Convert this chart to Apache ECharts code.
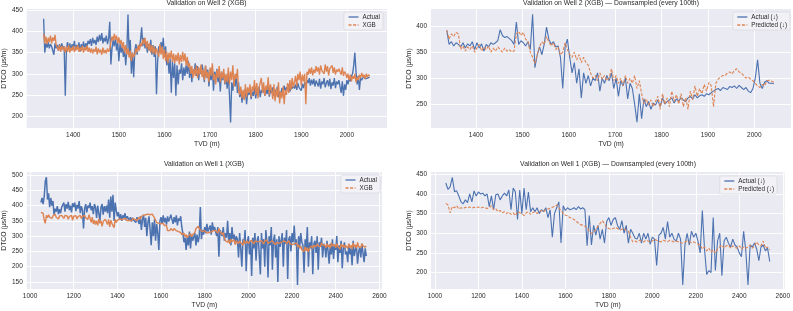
<!DOCTYPE html>
<html><head><meta charset="utf-8">
<script src="https://cdn.jsdelivr.net/npm/echarts@6/dist/echarts.min.js"></script>
<style>html,body{margin:0;padding:0;background:#fff}#c{width:793px;height:311px}</style>
</head><body><div id="c"></div>
<script>
// ---------- Well 2, full resolution (depth start 1335 m, sample step 2.5 m) ----------
const w2FullStart = 1335, w2FullStep = 2.5;
const w2FullActual = [
 430,350,372,362,375,360,370,365,368,345,372,360,368,355,370,358,372,360,365,248,
 360,375,358,372,355,370,362,378,356,368,360,374,352,370,362,376,358,372,364,378,
 370,382,366,385,372,380,368,388,375,392,378,396,372,385,376,390,370,383,423,322,
 360,380,365,385,355,375,330,370,350,365,340,360,320,355,440,345,380,300,350,292,
 355,370,345,365,360,380,410,365,385,360,375,350,370,355,380,345,368,340,365,252,
 330,365,350,375,360,385,340,365,320,345,300,335,255,330,290,325,248,320,275,310,
 300,325,285,315,295,320,300,330,290,315,280,310,300,325,295,318,285,312,300,322,
 305,280,318,290,310,270,300,285,315,260,305,290,312,280,298,258,305,285,300,275,
 295,265,300,250,185,280,260,290,270,300,255,280,245,262,232,258,240,265,228,255,
 250,262,240,258,248,268,242,260,252,270,245,262,255,268,248,265,252,270,246,262,
 255,268,248,262,252,270,245,258,250,266,255,272,260,268,262,275,258,270,265,272,
 265,275,262,278,268,272,260,276,266,280,270,285,278,290,272,286,275,288,270,284,
 280,270,288,265,282,275,290,268,278,285,270,288,264,280,272,290,266,282,275,285,
 270,255,282,248,275,262,285,275,290,282,295,300,320,350,305,275,295,262,290,285,
 290,295,288,292,290,294,292
];
const w2FullXgb = [
 395,372,388,370,385,375,390,372,386,378,392,368,362,355,368,352,366,356,364,350,
 365,352,368,350,362,355,366,351,364,356,368,352,362,354,366,350,363,355,367,352,
 362,350,360,348,358,352,364,346,360,350,357,345,362,349,356,348,360,352,358,375,
 388,378,394,380,390,372,386,370,380,360,375,350,368,345,360,338,355,330,350,340,
 345,360,350,368,355,372,365,382,370,385,362,378,355,372,350,368,348,365,345,360,
 360,340,370,345,365,335,358,330,352,325,350,335,355,328,348,325,345,330,350,322,
 345,328,352,330,348,320,340,315,325,300,318,290,312,295,320,290,315,298,322,292,
 310,285,320,290,305,280,315,295,325,285,300,275,310,290,318,280,305,288,312,278,
 300,280,315,275,305,285,320,270,300,288,312,260,250,270,242,262,238,275,245,268,
 255,275,245,270,260,285,250,278,242,268,265,290,255,280,248,272,262,292,250,275,
 260,240,275,235,265,245,280,230,258,242,270,228,262,250,278,255,285,262,290,268,
 280,295,270,300,285,305,272,298,282,300,228,305,298,312,300,315,296,310,302,318,
 305,315,298,320,308,312,300,322,305,318,296,312,308,320,302,315,298,310,305,312,
 308,298,315,295,305,300,290,300,285,298,282,295,288,300,280,292,285,298,290,302,
 292,298,288,300,292,298,295
];

// ---------- Well 2, downsampled (start 1337 m, step 5 m) ----------
const w2DsStart = 1337, w2DsStep = 5;
const w2DsActual = [
 392,365,370,362,368,365,360,368,358,366,
 362,370,355,368,358,366,352,365,360,368,
 365,368,372,393,382,378,380,376,372,365,
 408,365,372,368,362,370,355,423,320,345,
 360,345,365,398,375,365,370,360,362,340,
 280,360,375,340,310,330,290,318,262,310,
 290,305,285,300,295,310,275,300,290,305,
 295,310,280,300,265,295,285,300,260,290,
 280,250,215,270,222,260,245,255,240,252,
 248,258,245,262,250,255,258,262,252,260,
 256,262,258,255,262,265,260,268,262,266,
 268,265,270,268,272,275,278,280,276,282,
 280,278,284,282,285,280,286,282,278,282,
 275,272,280,300,335,290,280,292,295,290,
 290,289
];
const w2DsPred = [
 392,375,385,380,388,385,355,362,352,360,
 355,362,350,358,365,352,360,355,362,350,
 358,352,360,355,350,358,352,355,350,352,
 385,390,382,388,375,370,350,340,328,345,
 360,370,365,380,370,362,368,355,360,345,
 350,368,355,345,340,350,335,345,330,340,
 330,325,310,300,305,295,310,298,305,295,
 300,318,295,305,290,300,285,305,290,300,
 290,305,280,295,270,250,260,248,258,245,
 255,265,240,270,250,262,245,275,255,268,
 250,270,245,262,240,275,258,285,265,280,
 270,288,275,292,285,245,290,298,302,305,
 305,310,312,308,315,318,312,310,305,300,
 302,298,295,290,285,282,288,285,295,296,
 294,292
];

// ---------- Well 1, full resolution (start 1050 m, step 5 m) ----------
const w1FullStart = 1050, w1FullStep = 5;
const w1FullActual = [
 410,425,405,430,480,493,420,440,395,425,400,415,370,390,380,398,372,388,375,395,
 395,410,380,405,390,412,385,400,378,408,395,410,382,402,390,415,375,398,385,325,
 390,405,378,400,392,410,385,398,372,405,395,360,400,375,348,395,405,370,398,380,
 400,375,420,360,430,380,435,350,410,385,365,378,355,372,350,368,360,375,352,365,
 358,350,362,348,360,352,356,345,362,350,340,365,320,355,370,330,360,300,345,365,
 320,270,345,300,355,285,340,310,255,350,362,340,368,345,360,338,365,348,358,370,
 355,340,362,345,368,335,358,350,365,330,310,280,295,255,300,270,315,260,305,285,
 290,310,270,305,280,300,395,290,320,305,330,310,340,315,325,335,305,345,320,330,
 325,300,330,233,320,310,300,330,285,310,295,350,280,310,270,330,290,305,275,300,
 290,230,310,260,200,290,275,320,185,280,300,240,285,170,295,260,310,220,285,300,
 295,175,310,260,290,200,320,280,165,300,270,330,190,285,305,230,290,150,300,265,
 285,310,200,295,275,320,160,290,300,250,310,280,335,270,290,140,300,265,310,280,
 270,180,290,255,330,200,280,260,300,175,275,285,245,300,190,280,265,295,230,275,
 265,230,285,250,210,275,240,290,225,268,255,300,215,270,245,285,195,260,280,240,
 250,215,275,240,260,205,285,235,255,270,210,248,265,230,275,245,215,260,235
];
const w1FullXgb = [
 378,376,375,352,342,368,360,370,362,368,358,366,360,372,362,368,356,366,360,368,
 365,358,368,362,366,355,364,360,368,352,365,360,367,356,364,362,368,358,365,360,
 368,360,366,355,370,358,345,362,340,352,338,350,335,356,342,350,332,348,345,355,
 350,338,355,330,352,342,348,328,355,345,352,348,356,350,354,348,356,352,358,350,
 355,352,356,350,358,352,355,360,352,358,362,355,365,360,368,362,370,365,372,368,
 370,375,372,368,360,352,345,348,342,345,340,338,342,335,330,335,318,322,318,325,
 322,318,325,320,318,322,315,320,312,305,300,310,298,305,295,302,300,308,298,305,
 305,312,325,330,332,326,320,318,315,312,318,314,310,316,312,318,314,310,318,315,
 318,322,310,325,315,320,305,312,295,285,290,280,288,275,290,282,278,288,272,285,
 280,275,285,278,282,270,288,276,280,284,275,282,278,286,280,274,284,278,282,276,
 282,276,285,280,274,284,278,288,276,282,280,275,285,278,282,272,280,286,276,282,
 280,276,284,278,282,275,280,285,276,280,272,278,275,270,278,265,272,260,268,255,
 258,250,265,252,262,248,260,255,268,260,270,272,265,275,268,272,266,278,270,268,
 270,262,275,265,272,260,278,268,264,272,262,276,266,270,258,274,265,272,262,270,
 268,260,275,262,270,258,278,265,272,260,280,266,270,262,276,268,272,264,268
];

// ---------- Well 1, downsampled (start 1050 m, step 10 m) ----------
const w1DsStart = 1050, w1DsStep = 10;
const w1DsActual = [
 428,412,418,442,406,408,395,380,375,385,
 378,400,380,408,395,405,400,402,395,400,
 368,395,360,398,400,385,395,402,395,410,
 360,415,405,335,410,350,415,360,405,355,
 365,355,365,350,360,355,365,340,360,290,
 350,365,380,275,370,358,365,360,362,365,
 360,368,362,365,360,268,345,270,320,295,
 320,285,310,275,330,340,320,335,340,320,
 310,332,300,320,275,310,300,288,285,300,
 275,300,285,300,272,290,285,218,295,300,
 315,285,330,290,300,285,280,300,285,168,
 270,300,270,305,290,300,280,250,358,260,
 195,205,200,340,205,280,300,192,280,290,
 275,265,285,270,265,250,240,305,255,168,
 270,265,275,260,230,265,270,255,262,228
];
const w1DsPred = [
 376,372,352,368,365,370,362,365,363,366,
 365,367,364,366,365,367,364,366,365,363,
 365,370,360,362,355,358,352,355,350,354,
 348,352,345,355,352,350,345,352,355,348,
 352,355,350,356,358,355,360,362,364,366,
 368,372,365,358,350,346,345,340,338,335,
 330,326,322,320,318,315,305,300,302,310,
 318,325,332,325,315,312,310,312,315,312,
 308,310,312,308,305,290,278,280,278,282,
 280,278,282,280,278,280,285,282,280,278,
 282,280,278,282,280,278,280,278,276,275,
 278,280,278,276,278,275,272,270,260,265,
 255,262,252,258,250,260,265,270,262,268,
 270,262,268,264,262,268,260,265,262,265,
 270,262,268,278,270,268,280,262,265,258
];

// ---------- tick labels ----------
const xTicksW2 = [1400,1500,1600,1700,1800,1900,2000];
const xTicksW1 = [1000,1200,1400,1600,1800,2000,2200,2400,2600];
const yTicksTL = [200,250,300,350,400,450];
const yTicksTR = [250,300,350,400];
const yTicksBL = [150,200,250,300,350,400,450,500];
const yTicksBR = [200,250,300,350,400,450];

const titles = ['Validation on Well 2 (XGB)',
  'Validation on Well 2 (XGB) \u2014 Downsampled (every 100th)',
  'Validation on Well 1 (XGB)',
  'Validation on Well 1 (XGB) \u2014 Downsampled (every 100th)'];

function pairs(start, step, vals){ return vals.map((v,i)=>[start+i*step, v]); }

const FONT = 'Liberation Sans, Arial, sans-serif';
const TXT = '#2a2a2a';
const BLUE = '#4C72B0', ORANGE = '#DD8452';
const DASH = [3, 1.6];

const grids = [
  {left:26, top:9, width:361, height:119},
  {left:431, top:9, width:360, height:119},
  {left:26, top:172, width:356, height:117},
  {left:431, top:172, width:354, height:117}
];
const xr = [[1298,2088],[1303,2079],[985,2612],[982,2609]];
const yr = [[172,453],[204,433],[127,510],[158,456]];
const xt = [xTicksW2, xTicksW2, xTicksW1, xTicksW1];
const yt = [yTicksTL, yTicksTR, yTicksBL, yTicksBR];

const xAxis = grids.map((g,i)=>({
  type:'value', gridIndex:i, min:xr[i][0], max:xr[i][1],
  name:'TVD (m)', nameLocation:'middle', nameGap: i<2 ? 12.5 : 13,
  nameTextStyle:{fontSize:6.8, color:TXT, fontFamily:FONT},
  axisLine:{show:false},
  axisTick:{show:false, customValues:xt[i]},
  axisLabel:{customValues:xt[i], fontSize:6.5, color:TXT, fontFamily:FONT, margin:4, formatter:v=>String(v)},
  splitLine:{show:true, customValues:xt[i], lineStyle:{color:'#ffffff', width:0.9}}
}));
const yAxis = grids.map((g,i)=>({
  type:'value', gridIndex:i, min:yr[i][0], max:yr[i][1],
  name:'DTCO (\u03bcs/m)', nameLocation:'middle', nameGap:18,
  nameTextStyle:{fontSize:6.8, color:TXT, fontFamily:FONT},
  axisLine:{show:false},
  axisTick:{show:false, customValues:yt[i]},
  axisLabel:{customValues:yt[i], fontSize:6.5, color:TXT, fontFamily:FONT, margin:4, formatter:v=>String(v)},
  splitLine:{show:true, customValues:yt[i], lineStyle:{color:'#ffffff', width:0.9}}
}));

function ser(name, idx, data, color, dashed, width){
  return {type:'line', name, xAxisIndex:idx, yAxisIndex:idx, data,
    showSymbol:false, symbol:'none', animation:false, silent:true,
    lineStyle:{color, width, type: dashed ? DASH : 'solid'},
    itemStyle:{color}};
}

const series = [
  ser('Actual', 0, pairs(w2FullStart, w2FullStep, w2FullActual), BLUE, false, 1.35),
  ser('XGB', 0, pairs(w2FullStart, w2FullStep, w2FullXgb), ORANGE, false, 1.35),
  ser('Actual (\u2193)', 1, pairs(w2DsStart, w2DsStep, w2DsActual), BLUE, false, 1.1),
  ser('Predicted (\u2193)', 1, pairs(w2DsStart, w2DsStep, w2DsPred), ORANGE, true, 1.1),
  ser('Actual', 2, pairs(w1FullStart, w1FullStep, w1FullActual), BLUE, false, 1.5),
  ser('XGB', 2, pairs(w1FullStart, w1FullStep, w1FullXgb), ORANGE, false, 1.4),
  ser('Actual (\u2193)', 3, pairs(w1DsStart, w1DsStep, w1DsActual), BLUE, false, 1.1),
  ser('Predicted (\u2193)', 3, pairs(w1DsStart, w1DsStep, w1DsPred), ORANGE, true, 1.1)
];

const centers = [206.5, 611, 204, 608];
const title = titles.map((t,i)=>({
  text:t, left:centers[i], top: i<2 ? 0 : 161, textAlign:'center', padding:0,
  textStyle:{fontSize:6.8, fontWeight:'normal', color:TXT, fontFamily:FONT}
}));

function legend(names, right, top){
  return {orient:'vertical', right, top, selectedMode:false,
    data:[{name:names[0], lineStyle:{type:'solid', width:1.3}},
          {name:names[1], lineStyle:{type:DASH, width:1.3}}],
    itemWidth:10, itemHeight:7, itemGap:2, padding:[2,3,2,4],
    itemStyle:{opacity:0},
    backgroundColor:'rgba(242,242,247,0.85)', borderColor:'#d4d4dc', borderWidth:0.6, borderRadius:2,
    textStyle:{fontSize:6.3, color:TXT, fontFamily:FONT, padding:[0,0,0,-1]}};
}

const option = {
  backgroundColor:'#ffffff',
  animation:false,
  title,
  grid: grids.map(g=>Object.assign({show:true, backgroundColor:'#EAEAF2', borderWidth:0}, g)),
  xAxis, yAxis, series,
  legend:[
    legend(['Actual','XGB'], 410, 12),
    legend(['Actual (\u2193)','Predicted (\u2193)'], 3, 12),
    legend(['Actual','XGB'], 413, 175),
    legend(['Actual (\u2193)','Predicted (\u2193)'], 16, 176)
  ]
};
const chart = echarts.init(document.getElementById('c'), null, {renderer:'canvas'});
chart.setOption(option);
</script></body></html>
